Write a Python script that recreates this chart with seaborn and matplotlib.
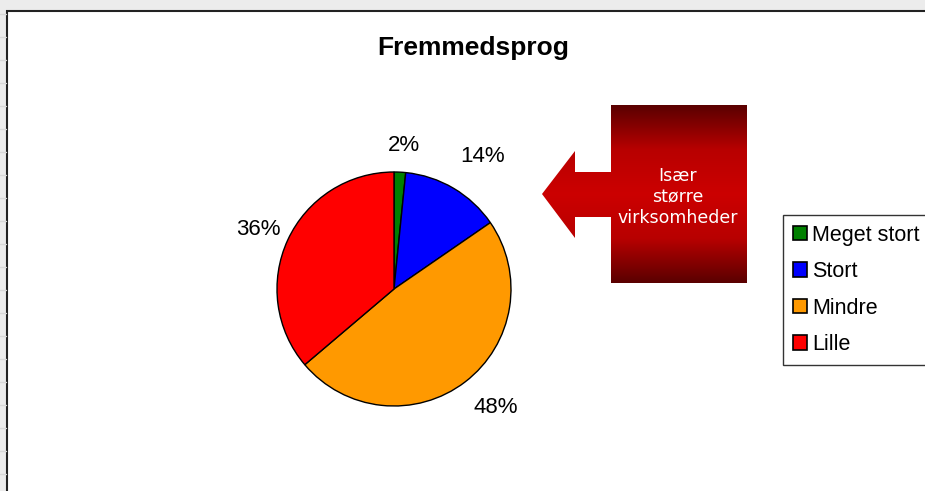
import numpy as np
import seaborn as sns
import matplotlib.pyplot as plt
from matplotlib.patches import Polygon, Rectangle
from matplotlib.colors import LinearSegmentedColormap

# Data
categories = ["Meget stort", "Stort", "Mindre", "Lille"]
shares = [1.6, 13.8, 48.4, 36.2]
colors = ["#008000", "#0000FF", "#FF9900", "#FF0000"]
title = "Fremmedsprog"
callout = "Især\nstørre\nvirksomheder"

sns.set_style("white")
plt.rcParams["font.family"] = ["Liberation Sans", "DejaVu Sans"]
plt.rcParams["text.color"] = "black"

W, H = 925, 491
fig = plt.figure(figsize=(W / 100, H / 100), dpi=100)
fig.patch.set_facecolor("#ececec")

# background layer in pixel coordinates
bg = fig.add_axes([0, 0, 1, 1])
bg.set_xlim(0, W)
bg.set_ylim(H, 0)
bg.axis("off")
bg.add_patch(Rectangle((7, 11), W, H, facecolor="white", edgecolor="#222222", lw=1.5))
for y in range(14, H, 23):
    bg.plot([0, 6], [y, y], color="#d8d8d8", lw=1)

# callout arrow with vertical red gradient
pts = [(542, 194), (575, 151), (575, 172), (611, 172), (611, 105),
       (747, 105), (747, 283), (611, 283), (611, 217), (575, 217), (575, 238)]
shape = Polygon(pts, closed=True, facecolor="none", edgecolor="none")
bg.add_patch(shape)
cmap = LinearSegmentedColormap.from_list("red", ["#5a0000", "#b80000", "#cc0000", "#b80000", "#5a0000"])
grad = np.linspace(0, 1, 256).reshape(-1, 1)
img = bg.imshow(grad, cmap=cmap, extent=(542, 747, 283, 105), aspect="auto", zorder=2)
img.set_clip_path(shape)
bg.text(678, 197, callout, color="white", ha="center", va="center",
        fontsize=12.5, family="DejaVu Sans", linespacing=1.2, zorder=3)

bg.text(473, 48, title, ha="center", va="center", fontsize=19, fontweight="bold")

# pie
cx, cy, r = 394, 289, 117
ax = fig.add_axes([(cx - r) / W, (H - cy - r) / H, 2 * r / W, 2 * r / H])
wedges, _, pcts = ax.pie(
    shares, colors=colors, startangle=90, counterclock=False,
    autopct="%.0f%%", pctdistance=1.28,
    wedgeprops=dict(edgecolor="black", linewidth=1),
    textprops=dict(fontsize=16, color="black"),
)
ax.set_xlim(-1, 1)
ax.set_ylim(-1, 1)

# small pixel nudges so the labels sit where Excel put them
nudges = [(2, -6), (12, 4), (11, 0), (0, -3)]
for t, (dx, dy) in zip(pcts, nudges):
    x, y = t.get_position()
    t.set_position((x + dx / r, y + dy / r))

leg = fig.legend(wedges, categories, loc="upper left",
                 bbox_to_anchor=(783 / W, 1 - 215 / H), frameon=True,
                 fontsize=15.5, handlelength=0.65, handleheight=0.65,
                 handletextpad=0.25, labelspacing=0.72, borderpad=0.45,
                 borderaxespad=0, fancybox=False)
leg.get_frame().set_edgecolor("black")
leg.get_frame().set_linewidth(1)
for h in leg.legend_handles:
    h.set_linewidth(1.2)
    h.set_edgecolor("black")

fig.savefig("out.png", dpi=100)
